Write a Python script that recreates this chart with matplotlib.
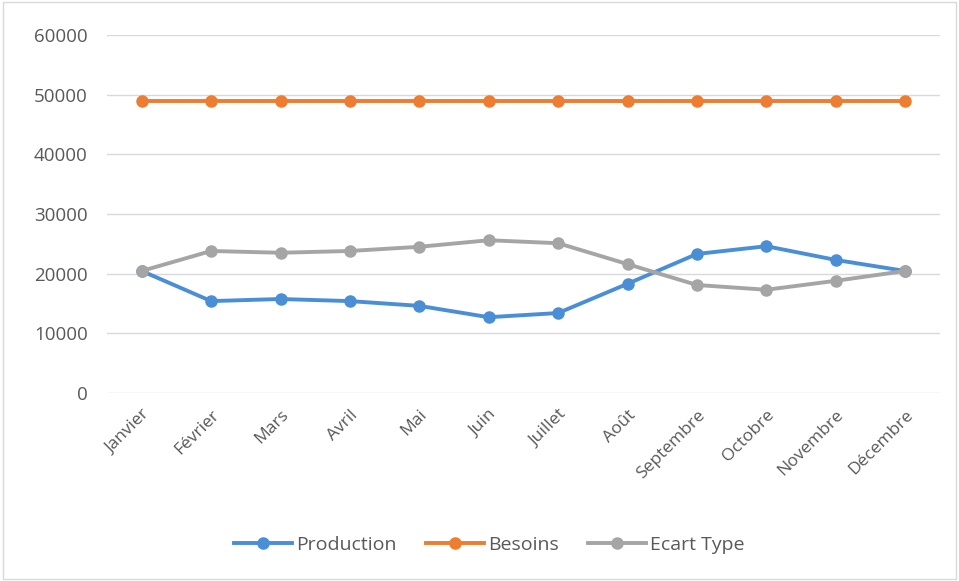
import matplotlib
matplotlib.use("Agg")
import matplotlib.pyplot as plt

months = ["Janvier", "Février", "Mars", "Avril", "Mai", "Juin", "Juillet",
          "Août", "Septembre", "Octobre", "Novembre", "Décembre"]
production = [20450, 15400, 15750, 15400, 14600, 12700, 13400, 18300, 23300, 24600, 22300, 20450]
besoins = [48900] * 12
ecart_type = [20450, 23800, 23500, 23800, 24500, 25600, 25100, 21600, 18100, 17300, 18800, 20450]
yticks = [0, 10000, 20000, 30000, 40000, 50000, 60000]

plt.rcParams['font.family'] = ['Open Sans', 'DejaVu Sans']

fig = plt.figure(figsize=(9.59, 5.81), dpi=100)
ax = fig.add_axes([0.1116, 0.3236, 0.8684, 0.6162])

x = list(range(len(months)))
series = [("Production", production, "#4A8FD6"),
          ("Besoins", besoins, "#ED7D31"),
          ("Ecart Type", ecart_type, "#A5A5A5")]
for name, vals, col in series:
    ax.plot(x, vals, color=col, lw=2.8, marker="o", ms=8, label=name, zorder=3)

ax.set_xlim(-0.5, len(months) - 0.5)
ax.set_ylim(0, 60000)
ax.set_yticks(yticks)
ax.set_yticklabels([str(v) for v in yticks], fontsize=13.5, color="#595959")
ax.set_xticks(x)
ax.set_xticklabels(months, rotation=45, ha="right", rotation_mode="anchor",
                   fontsize=12.5, color="#595959")
ax.tick_params(axis="y", length=0, pad=14)
ax.tick_params(axis="x", length=0, pad=10)
ax.grid(axis="y", color="#D9D9D9", lw=1)
ax.set_axisbelow(True)
for s in ax.spines.values():
    s.set_visible(False)

fig.legend(loc="center", bbox_to_anchor=(0.51, 0.062), ncol=3, frameon=False,
           fontsize=14, labelcolor="#595959", handlelength=3, columnspacing=1.5,
           handletextpad=0.2)

border = plt.Rectangle((0.003, 0.003), 0.994, 0.994, transform=fig.transFigure,
                       fill=False, edgecolor="#D9D9D9", lw=1)
fig.patches.append(border)

fig.savefig("out.png", dpi=100)
